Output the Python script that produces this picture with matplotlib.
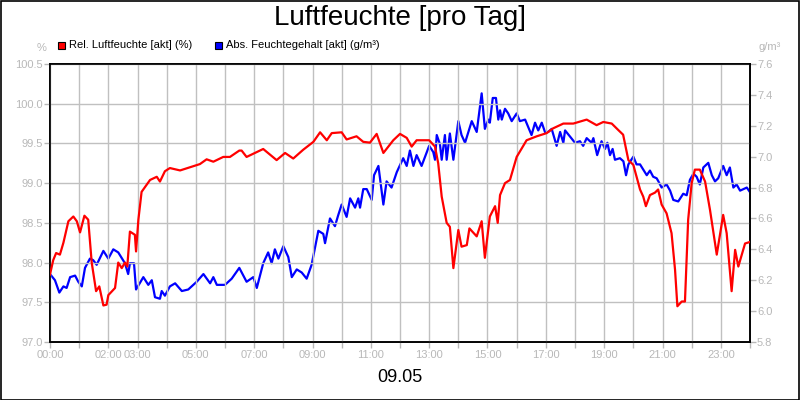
import matplotlib
matplotlib.use("Agg")
import matplotlib.pyplot as plt
from matplotlib.patches import Rectangle

plt.rcParams['font.family'] = ['Liberation Sans', 'DejaVu Sans']

# ---- data ----
rel_hours = [0.00, 0.11, 0.21, 0.34, 0.46, 0.63, 0.80, 0.92, 1.03, 1.18, 1.31, 1.43, 1.58, 1.69,
             1.83, 1.94, 2.00, 2.23, 2.34, 2.46, 2.57, 2.65, 2.74, 2.91, 2.95, 3.03, 3.14, 3.43,
             3.66, 3.77, 3.94, 4.11, 4.46, 4.80, 5.14, 5.37, 5.60, 5.94, 6.17, 6.49, 6.57, 6.74,
             7.31, 7.77, 8.06, 8.34, 8.68, 9.03, 9.26, 9.49, 9.66, 10.00, 10.17, 10.51, 10.74,
             10.97, 11.20, 11.43, 11.77, 12.00, 12.23, 12.40, 12.57, 13.00, 13.20, 13.31, 13.43,
             13.60, 13.71, 13.83, 14.00, 14.11, 14.29, 14.38, 14.63, 14.80, 14.91, 15.08, 15.26,
             15.35, 15.43, 15.60, 15.77, 16.00, 16.34, 16.69, 17.03, 17.25, 17.60, 17.94, 18.40,
             18.74, 18.97, 19.26, 19.48, 19.65, 19.83, 20.00, 20.23, 20.34, 20.43, 20.57, 20.74,
             20.85, 20.97, 21.14, 21.31, 21.43, 21.51, 21.66, 21.77, 21.88, 22.00, 22.11, 22.28,
             22.46, 22.63, 22.86, 23.08, 23.20, 23.37, 23.49, 23.60, 23.83, 24.00]
rel_values = [97.85, 98.03, 98.12, 98.10, 98.25, 98.52, 98.58, 98.52, 98.38, 98.59, 98.54, 98.00,
              97.64, 97.70, 97.46, 97.47, 97.59, 97.68, 98.00, 97.93, 98.00, 97.95, 98.39, 98.35,
              98.14, 98.54, 98.89, 99.04, 99.08, 99.02, 99.15, 99.19, 99.16, 99.20, 99.24, 99.30,
              99.27, 99.33, 99.33, 99.41, 99.41, 99.33, 99.43, 99.29, 99.38, 99.31, 99.42, 99.52,
              99.64, 99.54, 99.63, 99.64, 99.55, 99.59, 99.52, 99.51, 99.62, 99.38, 99.54, 99.62,
              99.57, 99.46, 99.54, 99.54, 99.46, 99.25, 98.83, 98.50, 98.45, 97.93, 98.41, 98.20,
              98.22, 98.43, 98.33, 98.52, 98.06, 98.58, 98.71, 98.50, 98.85, 99.00, 99.04, 99.33,
              99.54, 99.59, 99.63, 99.69, 99.75, 99.75, 99.80, 99.73, 99.77, 99.75, 99.67, 99.61,
              99.29, 99.23, 98.92, 98.83, 98.71, 98.85, 98.88, 98.92, 98.73, 98.62, 98.37, 97.91,
              97.45, 97.51, 97.51, 98.54, 99.00, 99.17, 99.17, 99.02, 98.66, 98.10, 98.60, 98.37,
              97.64, 98.16, 97.95, 98.24, 98.26]

abs_hours = [0.00, 0.17, 0.32, 0.46, 0.57, 0.69, 0.86, 0.97, 1.09, 1.20, 1.37, 1.48, 1.60, 1.83,
             2.00, 2.17, 2.34, 2.57, 2.68, 2.74, 2.88, 2.95, 3.20, 3.37, 3.49, 3.60, 3.77, 3.83,
             3.94, 4.11, 4.29, 4.52, 4.74, 5.03, 5.26, 5.49, 5.60, 5.72, 6.00, 6.23, 6.49, 6.74,
             6.97, 7.09, 7.31, 7.48, 7.60, 7.71, 7.83, 8.00, 8.17, 8.29, 8.46, 8.63, 8.80, 8.97,
             9.20, 9.37, 9.43, 9.60, 9.77, 9.88, 10.00, 10.17, 10.29, 10.46, 10.57, 10.63, 10.74,
             10.86, 11.03, 11.11, 11.26, 11.43, 11.54, 11.71, 11.89, 12.11, 12.23, 12.34, 12.46,
             12.57, 12.74, 12.86, 13.00, 13.14, 13.20, 13.26, 13.37, 13.43, 13.54, 13.60, 13.71,
             13.83, 14.00, 14.11, 14.23, 14.46, 14.63, 14.80, 14.91, 15.03, 15.08, 15.18, 15.29,
             15.37, 15.43, 15.49, 15.60, 15.71, 15.83, 16.00, 16.11, 16.29, 16.40, 16.51, 16.63,
             16.74, 16.86, 16.97, 17.08, 17.20, 17.37, 17.49, 17.60, 17.66, 17.83, 18.00, 18.17,
             18.28, 18.40, 18.57, 18.63, 18.76, 18.91, 19.03, 19.11, 19.20, 19.29, 19.37, 19.54,
             19.66, 19.75, 19.83, 20.00, 20.11, 20.23, 20.46, 20.57, 20.68, 20.80, 20.86, 20.97,
             21.14, 21.26, 21.37, 21.54, 21.71, 21.83, 21.94, 22.06, 22.17, 22.28, 22.40, 22.57,
             22.69, 22.80, 22.91, 23.08, 23.20, 23.31, 23.43, 23.54, 23.66, 23.89, 24.00]
abs_values = [6.24, 6.20, 6.12, 6.16, 6.15, 6.22, 6.23, 6.19, 6.16, 6.28, 6.34, 6.33, 6.30, 6.39,
              6.34, 6.40, 6.38, 6.31, 6.24, 6.31, 6.31, 6.14, 6.22, 6.17, 6.20, 6.09, 6.08, 6.13,
              6.10, 6.16, 6.18, 6.13, 6.14, 6.19, 6.24, 6.18, 6.22, 6.17, 6.17, 6.21, 6.28, 6.19,
              6.22, 6.15, 6.31, 6.38, 6.31, 6.40, 6.34, 6.42, 6.35, 6.22, 6.27, 6.25, 6.21, 6.30,
              6.52, 6.50, 6.44, 6.60, 6.55, 6.62, 6.69, 6.61, 6.73, 6.67, 6.73, 6.67, 6.79,
              6.79, 6.72, 6.88, 6.94, 6.69, 6.84, 6.80, 6.90, 6.99, 6.94, 7.04, 6.94,
              7.01, 6.94, 7.00, 7.07, 7.03, 6.98, 7.14, 7.08, 6.98, 7.14, 6.98, 7.15,
              6.98, 7.23, 7.14, 7.09, 7.23, 7.16, 7.41, 7.18, 7.24, 7.22, 7.38, 7.38,
              7.24, 7.30, 7.24, 7.31, 7.28, 7.23, 7.28, 7.23, 7.24, 7.19, 7.14, 7.22,
              7.17, 7.22, 7.16, 7.16, 7.18, 7.07, 7.16, 7.09, 7.17, 7.13, 7.09, 7.10,
              7.07, 7.12, 7.09, 7.12, 7.01, 7.10, 7.05, 7.09, 7.01, 7.05, 6.98, 6.99,
              6.97, 6.88, 6.95, 7.00, 6.95, 6.95, 6.88, 6.91, 6.87, 6.86, 6.84, 6.80,
              6.82, 6.78, 6.72, 6.71, 6.76, 6.75, 6.85, 6.89, 6.87, 6.82, 6.93, 6.96,
              6.88, 6.84, 6.86, 6.94, 6.88, 6.93, 6.80, 6.82, 6.78, 6.80, 6.77]

x_tick_hours = list(range(25))
x_tick_labels = ['00:00', '', '02:00', '03:00', '', '05:00', '', '07:00', '', '09:00', '',
                 '11:00', '', '13:00', '', '15:00', '', '17:00', '', '19:00', '', '21:00', '',
                 '23:00', '']
left_ticks = [97.0, 97.5, 98.0, 98.5, 99.0, 99.5, 100.0, 100.5]
right_ticks = [5.8, 6.0, 6.2, 6.4, 6.6, 6.8, 7.0, 7.2, 7.4, 7.6]

title = 'Luftfeuchte [pro Tag]'
series_labels = ['Rel. Luftfeuchte [akt] (%)', 'Abs. Feuchtegehalt [akt] (g/m³)']
date_label = '09.05'

# ---- figure ----
fig = plt.figure(figsize=(8, 4), dpi=100)
fig.patch.set_facecolor('white')
fig.add_artist(Rectangle((0.0007, 0.001), 0.998, 0.997, transform=fig.transFigure,
                         fill=False, edgecolor='black', linewidth=1.2))

ax = fig.add_axes([50/800, 1 - 342/400, 700/800, 278/400])
ax2 = ax.twinx()

grey = '#b8b8b8'
ax.set_xlim(0, 24)
ax.set_ylim(97.0, 100.5)
ax2.set_ylim(5.8, 7.6)

ax.set_xticks(x_tick_hours)
ax.set_xticklabels(x_tick_labels)
ax.set_yticks(left_ticks)
ax.set_yticklabels([f'{v:.1f}' for v in left_ticks])
ax2.set_yticks(right_ticks)
ax2.set_yticklabels([f'{v:.1f}' for v in right_ticks])

ax.grid(True, color='#c0c0c0', linewidth=1.0)
ax.set_axisbelow(True)

for a in (ax, ax2):
    a.tick_params(colors=grey, labelcolor=grey, labelsize=8, length=4, width=1, direction='out')
    for s in a.spines.values():
        s.set_color('black')
        s.set_linewidth(1.2)
ax.tick_params(axis='x', pad=2)
ax.tick_params(axis='y', pad=1)
ax2.tick_params(axis='y', pad=1)

ax.plot(rel_hours, rel_values, color='#ff0000', linewidth=1.6, zorder=3)
ax2.plot(abs_hours, abs_values, color='#0000ff', linewidth=1.6, zorder=3)
ax.set_zorder(ax2.get_zorder() + 1)
ax.patch.set_visible(False)

# title and labels
fig.text(0.5, 1 - 18/400, title, ha='center', va='center', fontsize=20, color='black')
fig.text(0.5, 1 - 378/400, date_label, ha='center', va='center', fontsize=13, color='black')
fig.text(42/800, 1 - 48/400, '%', ha='center', va='center', fontsize=8, color=grey)
fig.text(770/800, 1 - 47/400, 'g/m³', ha='center', va='center', fontsize=8, color=grey)

# legend
leg_items = [(58, '#ff0000', series_labels[0]), (215, '#0000ff', series_labels[1])]
for px, col, lab in leg_items:
    fig.add_artist(Rectangle((px/800, 1 - 49/400), 7/800, 7/400, transform=fig.transFigure,
                             facecolor=col, edgecolor='black', linewidth=0.8))
    fig.text((px + 11)/800, 1 - 45.5/400, lab, ha='left', va='center', fontsize=8, color='black')

fig.savefig('out.png', dpi=100)
